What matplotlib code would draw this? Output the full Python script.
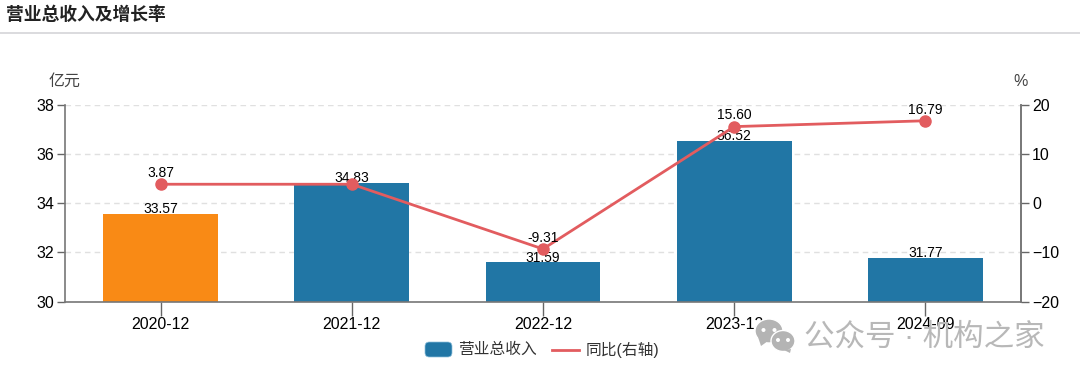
import matplotlib
matplotlib.use("Agg")
import matplotlib.pyplot as plt
from matplotlib.patches import Ellipse, Polygon, FancyBboxPatch
from matplotlib.lines import Line2D

plt.rcParams['font.family'] = ['Liberation Sans', 'Noto Sans CJK SC', 'DejaVu Sans']

categories = ['2020-12', '2021-12', '2022-12', '2023-12', '2024-09']
revenue = [33.57, 34.83, 31.59, 36.52, 31.77]
growth = [3.87, 3.87, -9.31, 15.60, 16.79]
growth_labels = ['3.87', '', '-9.31', '15.60', '16.79']
left_ticks = [30, 32, 34, 36, 38]
right_ticks = [-20, -10, 0, 10, 20]
bar_colors = ['#f98a15', '#2176a5', '#2176a5', '#2176a5', '#2176a5']

W, H = 1080, 381
fig = plt.figure(figsize=(W / 100, H / 100), dpi=100, facecolor='white')
def fx(x): return x / W
def fy(y): return 1 - y / H

ax = fig.add_axes([fx(65), fy(301.5), (1021 - 65) / W, (301.5 - 105) / H])
ax.set_xlim(-0.5, 4.5)
ax.set_ylim(30, 38)
ax.set_axisbelow(True)
ax.yaxis.grid(True, color='#e0e0e0', linestyle=(0, (4, 3)), linewidth=1)
ax.bar(range(5), revenue, width=0.6, color=bar_colors, linewidth=0, zorder=2)
ax.set_xticks(range(5), categories)
ax.set_yticks(left_ticks)
ax.tick_params(axis='both', labelsize=11.5, length=6, width=1, color='#666666', labelcolor='#000000', pad=2)
ax.tick_params(axis='x', pad=1.5, length=10)
for s in ['left', 'bottom', 'right']:
    ax.spines[s].set_color('#777777')
    ax.spines[s].set_linewidth(1.2)
ax.spines['top'].set_visible(False)

ax2 = ax.twinx()
ax2.set_ylim(-20, 20)
ax2.set_yticks(right_ticks)
ax2.tick_params(axis='y', labelsize=11.5, length=6, width=1, color='#666666', labelcolor='#000000', pad=2)
ax2.spines['top'].set_visible(False)
ax2.spines['right'].set_color('#777777')
ax2.spines['right'].set_linewidth(1.2)
ax2.spines['left'].set_visible(False)
ax2.spines['bottom'].set_visible(False)
ax2.plot(range(5), growth, color='#e25c5f', linewidth=2, marker='o', markersize=8, zorder=4)

for i, v in enumerate(revenue):
    ax.annotate(f'{v:.2f}', (i, v), xytext=(0, -1.5), textcoords='offset points', ha='center', va='bottom',
                fontsize=10, color='#000000', zorder=6)
for i, t in enumerate(growth_labels):
    if t:
        ax2.annotate(t, (i, growth[i]), xytext=(0, 3), textcoords='offset points', ha='center', va='bottom',
                     fontsize=10, color='#000000', zorder=6)

# Header
fig.text(fx(6), fy(15), '营业总收入及增长率', fontsize=12.8, fontweight='bold', color='#222222', va='center', ha='left')
fig.add_artist(Line2D([0, 1], [fy(32.5), fy(32.5)], color='#d4d4d8', linewidth=1.2))

# Axis units
fig.text(fx(65), fy(81.5), '亿元', fontsize=11.5, color='#444444', va='center', ha='center')
fig.text(fx(1021), fy(81.5), '%', fontsize=11.5, color='#444444', va='center', ha='center')

# Legend
fig.add_artist(FancyBboxPatch((fx(425), fy(357)), 27 / W, 15 / H, boxstyle='round,pad=0,rounding_size=0.004',
                              transform=fig.transFigure, facecolor='#2176a5', edgecolor='#8fc0dc', linewidth=0.5,
                              mutation_aspect=W / H))
fig.text(fx(458), fy(349.5), '营业总收入', fontsize=11.3, color='#333333', va='center', ha='left')
fig.add_artist(Line2D([fx(552), fx(579)], [fy(349.5), fy(349.5)], color='#e25c5f', linewidth=2))
fig.text(fx(586), fy(349.5), '同比(右轴)', fontsize=11.3, color='#333333', va='center', ha='left')

# Watermark
wm = '#b4b4b4'
def bubble(cx, cy, rx, ry, tail, eye):
    fig.add_artist(Ellipse((fx(cx), fy(cy)), 2 * rx / W, 2 * ry / H, transform=fig.transFigure,
                           facecolor=wm, edgecolor='white', linewidth=1, zorder=8))
    fig.add_artist(Polygon([(fx(a), fy(b)) for a, b in tail], transform=fig.transFigure, facecolor=wm,
                           edgecolor='none', zorder=8))
    for d in (-eye, eye):
        fig.add_artist(Ellipse((fx(cx + d), fy(cy - 1)), 4 / W, 4 / H, transform=fig.transFigure,
                               facecolor='white', edgecolor='none', zorder=9))
bubble(769, 331, 14, 12, [(758, 337), (761, 346), (768, 341)], 5.5)
bubble(783, 341, 12, 10.5, [(784, 350), (790, 353), (791, 349)], 5)
fig.text(fx(804), fy(338), '公众号 · 机构之家', fontsize=22, color='#b8b8b8', va='center', ha='left', zorder=8)

fig.savefig('out.png', dpi=100, facecolor='white')
